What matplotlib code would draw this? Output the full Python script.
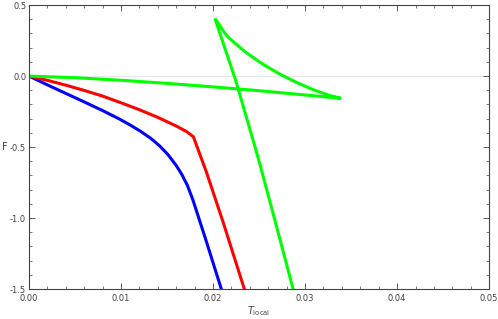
import matplotlib
matplotlib.use('Agg')
import matplotlib.pyplot as plt
from matplotlib.ticker import MultipleLocator, FormatStrFormatter

# blue curve
blue_T = [0, 0.002, 0.004, 0.006, 0.008, 0.0099, 0.011, 0.0121, 0.0132, 0.0142, 0.0151,
          0.016, 0.0166, 0.0172, 0.0178, 0.0184, 0.0192, 0.0200, 0.0209]
blue_F = [0, -0.062, -0.122, -0.182, -0.243, -0.305, -0.345, -0.388, -0.437, -0.492, -0.553,
          -0.630, -0.692, -0.768, -0.870, -0.99, -1.15, -1.315, -1.5]

# red curve
red_T = [0, 0.002, 0.004, 0.006, 0.008, 0.010, 0.012, 0.014, 0.016, 0.0171, 0.01786,
         0.0193, 0.0211, 0.0234]
red_F = [0, -0.030, -0.064, -0.101, -0.141, -0.188, -0.237, -0.291, -0.352, -0.39, -0.427,
         -0.68, -1.03, -1.5]

# green swallowtail: lower branch -> cusp -> upper branch -> cusp -> steep branch
green_T = [0, 0.005, 0.01, 0.015, 0.02, 0.025, 0.03, 0.0339,
           0.03254, 0.03072, 0.02891, 0.0271, 0.02529, 0.02348, 0.02167, 0.0213, 0.0209, 0.0202,
           0.02245, 0.0249, 0.0267, 0.0287]
green_F = [0, -0.0114, -0.0295, -0.0514, -0.0762, -0.103, -0.133, -0.157,
           -0.134, -0.092, -0.040, 0.019, 0.089, 0.171, 0.272, 0.302, 0.338, 0.406,
           -0.028, -0.575, -1.01, -1.5]

fig = plt.figure(figsize=(4.98, 3.19), dpi=100)
ax = fig.add_axes([0.0582, 0.094, 0.924, 0.890])

ax.axhline(0, color='#e6e6e6', lw=0.8, zorder=0)
ax.plot(blue_T, blue_F, color=(0, 0, 1), lw=2.2, solid_joinstyle='round')
ax.plot(red_T, red_F, color=(1, 0, 0), lw=2.2, solid_joinstyle='round')
ax.plot(green_T, green_F, color=(0, 1, 0), lw=2.2, solid_joinstyle='miter')

ax.set_xlim(0, 0.05)
ax.set_ylim(-1.5, 0.5)
ax.xaxis.set_major_locator(MultipleLocator(0.01))
ax.xaxis.set_minor_locator(MultipleLocator(0.002))
ax.yaxis.set_major_locator(MultipleLocator(0.5))
ax.yaxis.set_minor_locator(MultipleLocator(0.1))
ax.xaxis.set_major_formatter(FormatStrFormatter('%.2f'))
ax.yaxis.set_major_formatter(FormatStrFormatter('%.1f'))

frame = '#444444'
for s in ax.spines.values():
    s.set_color(frame)
    s.set_linewidth(0.8)
ax.tick_params(which='both', direction='in', top=True, right=True,
               color=frame, labelcolor='#444444', labelsize=6)
ax.tick_params(axis='y', which='both', pad=2)
ax.tick_params(axis='x', which='both', pad=3.5)
ax.tick_params(which='major', length=4, width=0.6)
ax.tick_params(which='minor', length=2, width=0.5)

ax.set_xlabel(r'$T_{\rm local}$', fontsize=7, color='#444444', labelpad=1)
ax.set_ylabel('F', fontsize=7, color='#444444', rotation=0, labelpad=4, va='center')

fig.savefig('out.png', dpi=100)
